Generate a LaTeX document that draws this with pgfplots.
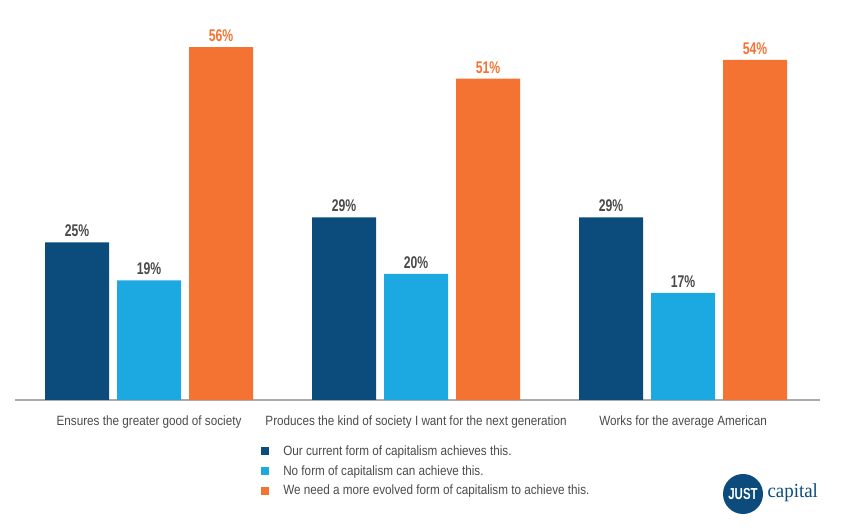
\documentclass[border=0pt]{standalone}
\usepackage{fontspec}
\setmainfont{Liberation Sans}[FakeStretch=0.87]
\newfontfamily\numfont{Liberation Sans}[FakeStretch=0.72]
\newfontfamily\logoserif{Liberation Serif}[FakeStretch=0.95]
\usepackage{pgfplots}
\pgfplotsset{compat=1.18}
\definecolor{dblue}{HTML}{0B4C7C}
\definecolor{lblue}{HTML}{1CA9E1}
\definecolor{orng}{HTML}{F47333}
\definecolor{txt}{HTML}{4A4A4A}
\definecolor{axgray}{HTML}{AAAAAA}
\begin{document}
\begin{tikzpicture}[x=1bp,y=1bp]
\path (0,0) rectangle (842,531);
\begin{axis}[
  at={(15bp,131bp)}, anchor=south west,
  scale only axis, width=805bp, height=378bp,
  xmin=-0.502, xmax=2.513, ymin=0, ymax=60,
  /pgf/number format/assume math mode=true,
  hide y axis,
  axis x line*=bottom,
  x axis line style={draw=axgray, line width=1.5bp, -},
  xtick={0,1,2},
  xticklabels={Ensures the greater good of society, Produces the kind of society I want for the next generation, Works for the average American},
  xtick style={draw=none},
  xticklabel style={text=txt, font=\fontsize{13.5}{15}\selectfont, yshift=-8bp},
  ybar=8bp, bar width=64bp,
  nodes near coords={\pgfmathprintnumber{\pgfplotspointmeta}\%},
  every node near coord/.append style={text=txt, font=\numfont\bfseries\fontsize{17}{17}\selectfont, yshift=2bp},
  legend style={at={(0.302,-0.110)}, anchor=north west, draw=none, fill=none,
    font=\fontsize{13.5}{15}\selectfont, text=txt, row sep=4.5bp,
    /tikz/every odd column/.append style={column sep=12bp}},
  legend cell align=left,
  legend image code/.code={\fill[#1, draw=none] (0bp,-4bp) rectangle (8bp,4bp);},
]
\addplot[fill=dblue, draw=none] coordinates {(0,25) (1,29) (2,29)};
\addplot[fill=lblue, draw=none] coordinates {(0,19) (1,20) (2,17)};
\addplot[fill=orng, draw=none, every node near coord/.append style={text=orng}] coordinates {(0,56) (1,51) (2,54)};
\legend{Our current form of capitalism achieves this., No form of capitalism can achieve this., We need a more evolved form of capitalism to achieve this.}
\end{axis}
\fill[dblue] (743,37) circle (20);
\node[text=white, font=\numfont\bfseries\fontsize{16}{16}\selectfont] at (743,37) {JUST};
\node[text=dblue, font=\logoserif\fontsize{20}{20}\selectfont, anchor=west] at (764,38) {capital};
\end{tikzpicture}
\end{document}
